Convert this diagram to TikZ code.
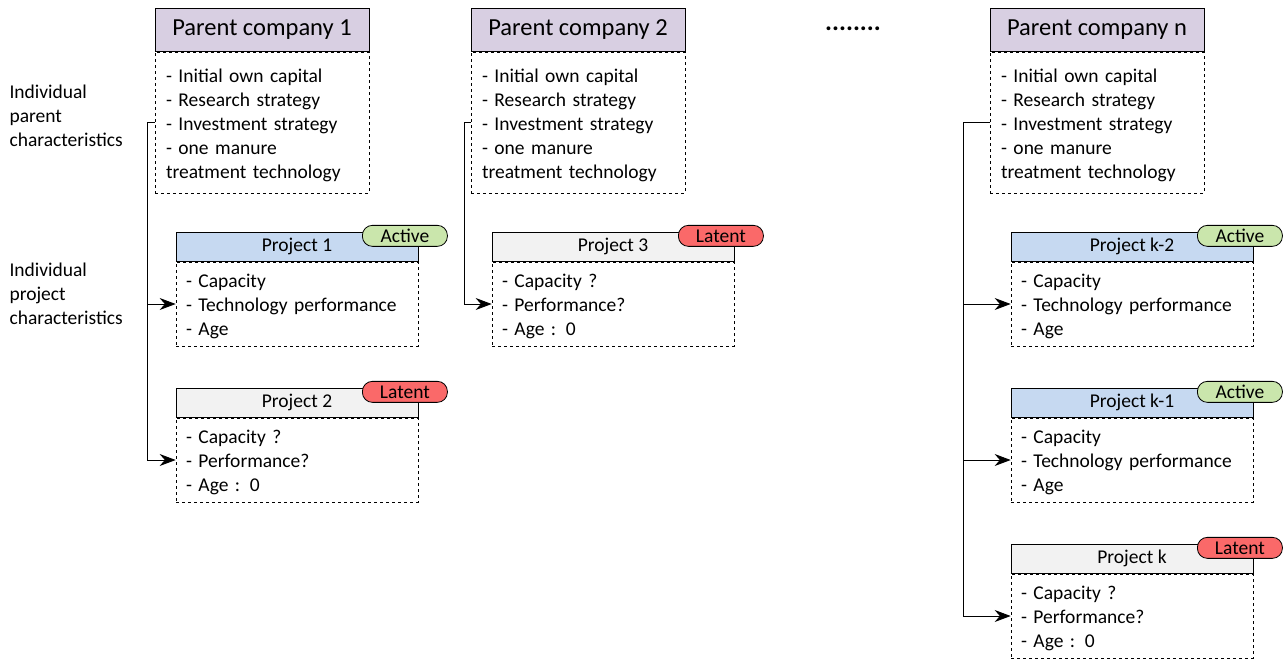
\documentclass[tikz,border=0pt]{standalone}
\usepackage{fontspec}
\setmainfont{Carlito}
\usepackage{tikz}
\usetikzlibrary{positioning, arrows.meta}
\definecolor{parentfill}{RGB}{216,207,226}
\definecolor{activefill}{RGB}{198,217,241}
\definecolor{latentfill}{RGB}{242,242,242}
\definecolor{greentag}{RGB}{202,230,172}
\definecolor{redtag}{RGB}{250,105,105}
\tikzstyle{parenthead} = [rectangle, minimum width=214pt, minimum height=43pt, inner sep=0pt, draw=black, line width=0.8pt, fill=parentfill, font=\fontsize{24.5}{28}\selectfont]
\tikzstyle{parentbody} = [rectangle, minimum width=214pt, minimum height=141pt, text width=192pt, inner xsep=11pt, inner ysep=0pt, align=left, draw=black, line width=0.7pt, dashed, font=\fontsize{19.5}{24}\selectfont, execute at begin node={\rule{0pt}{19pt}}]
\tikzstyle{projhead} = [rectangle, minimum width=242pt, minimum height=29pt, inner sep=0pt, draw=black, line width=0.8pt, font=\fontsize{19.5}{22}\selectfont]
\tikzstyle{projbody} = [rectangle, minimum width=242pt, minimum height=84pt, text width=222pt, inner xsep=10pt, inner ysep=0pt, align=left, draw=black, line width=0.7pt, dashed, font=\fontsize{19.5}{24}\selectfont, execute at begin node={\rule{0pt}{19pt}}]
\tikzstyle{tag} = [rectangle, rounded corners=10pt, minimum width=85pt, minimum height=21pt, inner sep=0pt, draw=black, line width=0.8pt, font=\fontsize{19.5}{21}\selectfont]
\tikzstyle{sidelabel} = [anchor=west, align=left, font=\fontsize{19.5}{24}\selectfont]
\tikzstyle{arrow} = [line width=0.9pt, -{Stealth[length=16pt,width=12pt]}]

\begin{document}
\begin{tikzpicture}[x=1pt, y=-1pt]
    \useasboundingbox (0,0) rectangle (1287,659);

    % side labels
    \node [sidelabel] (lparent) at (6,116) {Individual\\parent\\characteristics};
    \node [sidelabel] (lproject) at (6,294) {Individual\\project\\characteristics};

    % parent companies
    \node [parentbody] (pc1b) at (262,122.5) {- Initial own capital\\- Research strategy\\- Investment strategy\\- one manure\\treatment technology};
    \node [parenthead, above=0pt of pc1b] (pc1) {Parent company 1};
    \node [parentbody] (pc2b) at (578,122.5) {- Initial own capital\\- Research strategy\\- Investment strategy\\- one manure\\treatment technology};
    \node [parenthead, above=0pt of pc2b] (pc2) {Parent company 2};
    \node [parentbody] (pcnb) at (1097,122.5) {- Initial own capital\\- Research strategy\\- Investment strategy\\- one manure\\treatment technology};
    \node [parenthead, above=0pt of pcnb] (pcn) {Parent company n};
    \node [font=\bfseries\fontsize{26}{30}\selectfont] (dots) at (853,29) {........};

    % projects
    \node [projbody] (pr1b) at (297,304) {- Capacity\\- Technology performance\\- Age};
    \node [projhead, fill=activefill, above=0pt of pr1b] (pr1) {Project 1};
    \node [tag, fill=greentag, xshift=-13.5pt, yshift=-4pt] (t1) at (pr1.north east) {Active};

    \node [projbody] (pr2b) at (297,460) {- Capacity ?\\- Performance?\\- Age : 0};
    \node [projhead, fill=latentfill, above=0pt of pr2b] (pr2) {Project 2};
    \node [tag, fill=redtag, xshift=-13.5pt, yshift=-4pt] (t2) at (pr2.north east) {Latent};

    \node [projbody] (pr3b) at (613,304) {- Capacity ?\\- Performance?\\- Age : 0};
    \node [projhead, fill=latentfill, above=0pt of pr3b] (pr3) {Project 3};
    \node [tag, fill=redtag, xshift=-13.5pt, yshift=-4pt] (t3) at (pr3.north east) {Latent};

    \node [projbody] (prk2b) at (1132,304) {- Capacity\\- Technology performance\\- Age};
    \node [projhead, fill=activefill, above=0pt of prk2b] (prk2) {Project k-2};
    \node [tag, fill=greentag, xshift=-13.5pt, yshift=-4pt] (tk2) at (prk2.north east) {Active};

    \node [projbody] (prk1b) at (1132,460) {- Capacity\\- Technology performance\\- Age};
    \node [projhead, fill=activefill, above=0pt of prk1b] (prk1) {Project k-1};
    \node [tag, fill=greentag, xshift=-13.5pt, yshift=-4pt] (tk1) at (prk1.north east) {Active};

    \node [projbody] (prkb) at (1132,616) {- Capacity ?\\- Performance?\\- Age : 0};
    \node [projhead, fill=latentfill, above=0pt of prkb] (prk) {Project k};
    \node [tag, fill=redtag, xshift=-13.5pt, yshift=-4pt] (tk) at (prk.north east) {Latent};

    % connectors
    \draw [arrow] (pc1b.west) -- ++(-7,0) |- (pr1b.west);
    \draw [arrow] (pc1b.west) -- ++(-7,0) |- (pr2b.west);
    \draw [arrow] (pc2b.west) -- ++(-6,0) |- (pr3b.west);
    \draw [arrow] (pcnb.west) -- ++(-26,0) |- (prk2b.west);
    \draw [arrow] (pcnb.west) -- ++(-26,0) |- (prk1b.west);
    \draw [arrow] (pcnb.west) -- ++(-26,0) |- (prkb.west);
\end{tikzpicture}
\end{document}
